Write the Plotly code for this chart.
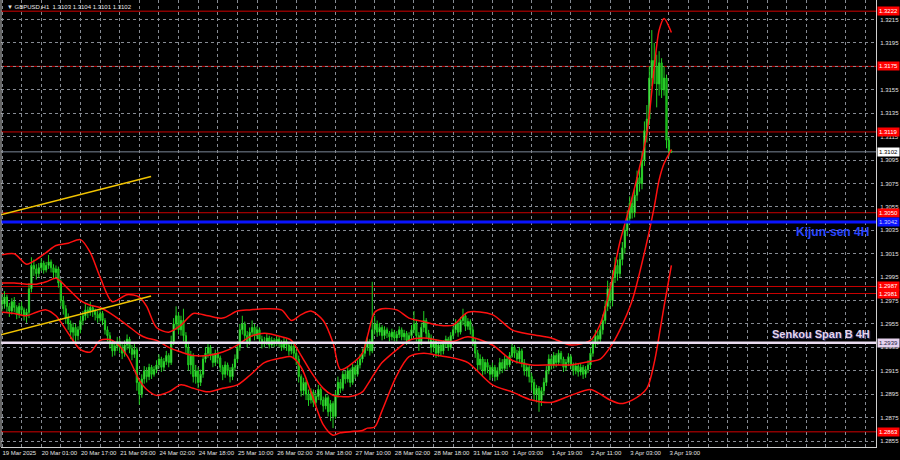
import plotly.graph_objects as go

# ---------------- data ----------------
time_labels = ["19 Mar 2025", "20 Mar 01:00", "20 Mar 17:00", "21 Mar 09:00", "24 Mar 02:00",
               "24 Mar 18:00", "25 Mar 10:00", "26 Mar 02:00", "26 Mar 18:00", "27 Mar 10:00",
               "28 Mar 02:00", "28 Mar 18:00", "31 Mar 11:00", "1 Apr 03:00", "1 Apr 19:00",
               "2 Apr 11:00", "3 Apr 03:00", "3 Apr 19:00"]

first_open = 1.2975
closes = [
    1.2972, 1.2978, 1.2970, 1.2966, 1.2974, 1.2969, 1.2963, 1.2970, 1.2967, 1.2962, 1.2965, 1.2985, 1.3005, 1.3002, 1.2998,
    1.3003, 1.3007, 1.3001, 1.3005, 1.3008, 1.3003, 1.2999, 1.3002, 1.2990, 1.2975, 1.2968, 1.2960, 1.2955, 1.2948, 1.2952, 1.2945, 1.2950, 1.2958, 1.2962, 1.2967, 1.2965, 1.2969, 1.2966, 1.2963,
    1.2960, 1.2964, 1.2958, 1.2950, 1.2945, 1.2938, 1.2932, 1.2936, 1.2940, 1.2935, 1.2930, 1.2937, 1.2942, 1.2934, 1.2929, 1.2933, 1.2905, 1.2895, 1.2908, 1.2915, 1.2910, 1.2918, 1.2912, 1.2916,
    1.2920, 1.2925, 1.2918, 1.2923, 1.2928, 1.2922, 1.2940, 1.2955, 1.2962, 1.2950, 1.2958, 1.2945, 1.2935, 1.2920, 1.2928, 1.2910, 1.2915, 1.2905, 1.2912, 1.2925, 1.2930, 1.2935, 1.2928,
    1.2922, 1.2930, 1.2926, 1.2918, 1.2912, 1.2920, 1.2915, 1.2910, 1.2918, 1.2925, 1.2935, 1.2950, 1.2955, 1.2945, 1.2940, 1.2948, 1.2952, 1.2945, 1.2950, 1.2942, 1.2938, 1.2940, 1.2943, 1.2937,
    1.2941, 1.2938, 1.2942, 1.2939, 1.2935, 1.2940, 1.2937, 1.2932, 1.2936, 1.2930, 1.2925, 1.2910, 1.2898, 1.2905, 1.2895, 1.2890, 1.2897, 1.2888, 1.2893, 1.2899, 1.2890, 1.2885, 1.2892, 1.2880,
    1.2887, 1.2876, 1.2895, 1.2905, 1.2900, 1.2912, 1.2908, 1.2915, 1.2905, 1.2918, 1.2912, 1.2920, 1.2925, 1.2930, 1.2935, 1.2940, 1.2932, 1.2950, 1.2955, 1.2948, 1.2952, 1.2945, 1.2950, 1.2947,
    1.2944, 1.2948, 1.2943, 1.2946, 1.2950, 1.2944, 1.2947, 1.2941, 1.2945, 1.2950, 1.2955, 1.2945, 1.2940, 1.2952, 1.2958, 1.2947, 1.2943, 1.2935, 1.2940, 1.2930, 1.2937, 1.2932, 1.2938, 1.2942,
    1.2935, 1.2945, 1.2950, 1.2955, 1.2948, 1.2958, 1.2962, 1.2953, 1.2957, 1.2950, 1.2940, 1.2930, 1.2920, 1.2925, 1.2915, 1.2922, 1.2918, 1.2912, 1.2918, 1.2910, 1.2915, 1.2922, 1.2917,
    1.2925, 1.2920, 1.2928, 1.2935, 1.2930, 1.2925, 1.2932, 1.2922, 1.2915, 1.2918, 1.2910, 1.2905, 1.2895, 1.2900, 1.2890, 1.2898, 1.2905, 1.2915, 1.2925, 1.2920, 1.2928, 1.2922, 1.2930, 1.2925,
    1.2918, 1.2922, 1.2927, 1.2920, 1.2915, 1.2919, 1.2914, 1.2918, 1.2912, 1.2916, 1.2920, 1.2930, 1.2938, 1.2945, 1.2942, 1.2950, 1.2958, 1.2970, 1.2985, 1.2975, 1.2995, 1.3005, 1.2998, 1.3010,
    1.3020, 1.3035, 1.3045, 1.3058, 1.3050, 1.3065, 1.3080, 1.3075, 1.3095, 1.3120, 1.3130, 1.3165, 1.3180, 1.3175, 1.3160, 1.3178, 1.3155, 1.3165, 1.3112, 1.3103, 1.3102,
]
highs = [
    1.2980, 1.2983, 1.2980, 1.2973, 1.2977, 1.2978, 1.2971, 1.2973, 1.2974, 1.2969, 1.2968, 1.2990, 1.3012, 1.3010, 1.3006,
    1.3007, 1.3011, 1.3009, 1.3008, 1.3014, 1.3010, 1.3006, 1.3005, 1.3004, 1.2993, 1.2979, 1.2971, 1.2964, 1.2958, 1.2956, 1.2955, 1.2953, 1.2962, 1.2966, 1.2972, 1.2970, 1.2974, 1.2971, 1.2968,
    1.2966, 1.2968, 1.2966, 1.2960, 1.2953, 1.2948, 1.2941, 1.2940, 1.2944, 1.2943, 1.2938, 1.2941, 1.2946, 1.2944, 1.2937, 1.2938, 1.2935, 1.2908, 1.2912, 1.2919, 1.2918, 1.2921, 1.2920, 1.2919,
    1.2924, 1.2929, 1.2927, 1.2926, 1.2932, 1.2930, 1.2945, 1.2960, 1.2970, 1.2965, 1.2962, 1.2968, 1.2948, 1.2938, 1.2932, 1.2930, 1.2920, 1.2918, 1.2916, 1.2928, 1.2935, 1.2939, 1.2937,
    1.2930, 1.2933, 1.2932, 1.2928, 1.2920, 1.2923, 1.2922, 1.2918, 1.2921, 1.2929, 1.2940, 1.2955, 1.2962, 1.2957, 1.2949, 1.2952, 1.2958, 1.2955, 1.2953, 1.2952, 1.2945, 1.2944, 1.2947, 1.2945,
    1.2944, 1.2943, 1.2945, 1.2944, 1.2941, 1.2943, 1.2942, 1.2939, 1.2939, 1.2938, 1.2933, 1.2928, 1.2912, 1.2909, 1.2907, 1.2899, 1.2900, 1.2899, 1.2896, 1.2903, 1.2901, 1.2893, 1.2895, 1.2894,
    1.2890, 1.2889, 1.2898, 1.2910, 1.2908, 1.2915, 1.2915, 1.2918, 1.2917, 1.2921, 1.2920, 1.2924, 1.2929, 1.2934, 1.2939, 1.2944, 1.2942, 1.2991, 1.2962, 1.2958, 1.2956, 1.2954, 1.2953, 1.2952,
    1.2949, 1.2951, 1.2950, 1.2949, 1.2953, 1.2952, 1.2950, 1.2949, 1.2948, 1.2954, 1.2966, 1.2958, 1.2948, 1.2956, 1.2966, 1.2960, 1.2950, 1.2946, 1.2943, 1.2942, 1.2940, 1.2939, 1.2941, 1.2945,
    1.2944, 1.2948, 1.2953, 1.2959, 1.2957, 1.2961, 1.2968, 1.2964, 1.2960, 1.2959, 1.2953, 1.2943, 1.2933, 1.2929, 1.2927, 1.2925, 1.2925, 1.2920, 1.2922, 1.2920, 1.2918, 1.2926, 1.2925,
    1.2928, 1.2927, 1.2931, 1.2939, 1.2937, 1.2933, 1.2935, 1.2934, 1.2925, 1.2921, 1.2920, 1.2913, 1.2908, 1.2903, 1.2902, 1.2901, 1.2909, 1.2919, 1.2929, 1.2928, 1.2931, 1.2930, 1.2933, 1.2932,
    1.2927, 1.2925, 1.2930, 1.2929, 1.2922, 1.2922, 1.2921, 1.2921, 1.2920, 1.2919, 1.2924, 1.2934, 1.2942, 1.2950, 1.2949, 1.2954, 1.2963, 1.2975, 1.2992, 1.2990, 1.3001, 1.3012, 1.3010, 1.3015,
    1.3025, 1.3040, 1.3052, 1.3064, 1.3063, 1.3070, 1.3086, 1.3090, 1.3102, 1.3128, 1.3142, 1.3175, 1.3206, 1.3195, 1.3185, 1.3188, 1.3182, 1.3175, 1.3168, 1.3115, 1.3104,
]
lows = [
    1.2966, 1.2968, 1.2965, 1.2961, 1.2963, 1.2965, 1.2959, 1.2960, 1.2962, 1.2958, 1.2956, 1.2960, 1.2982, 1.2996, 1.2993,
    1.2995, 1.3000, 1.2998, 1.2999, 1.3002, 1.2999, 1.2994, 1.2995, 1.2986, 1.2970, 1.2963, 1.2955, 1.2950, 1.2942, 1.2940, 1.2938, 1.2941, 1.2947, 1.2954, 1.2958, 1.2960, 1.2962, 1.2961, 1.2958,
    1.2956, 1.2957, 1.2954, 1.2946, 1.2940, 1.2934, 1.2927, 1.2928, 1.2932, 1.2930, 1.2925, 1.2927, 1.2933, 1.2930, 1.2924, 1.2926, 1.2898, 1.2886, 1.2892, 1.2904, 1.2905, 1.2907, 1.2908, 1.2910,
    1.2913, 1.2917, 1.2914, 1.2915, 1.2920, 1.2918, 1.2920, 1.2937, 1.2950, 1.2946, 1.2945, 1.2940, 1.2930, 1.2915, 1.2912, 1.2905, 1.2904, 1.2900, 1.2902, 1.2909, 1.2922, 1.2926, 1.2924,
    1.2918, 1.2919, 1.2921, 1.2914, 1.2907, 1.2909, 1.2911, 1.2905, 1.2907, 1.2915, 1.2922, 1.2932, 1.2946, 1.2941, 1.2935, 1.2937, 1.2944, 1.2941, 1.2942, 1.2938, 1.2934, 1.2935, 1.2937, 1.2934,
    1.2935, 1.2935, 1.2936, 1.2935, 1.2932, 1.2933, 1.2932, 1.2928, 1.2929, 1.2925, 1.2920, 1.2905, 1.2893, 1.2894, 1.2890, 1.2885, 1.2887, 1.2884, 1.2885, 1.2890, 1.2886, 1.2880, 1.2882, 1.2876,
    1.2872, 1.2866, 1.2874, 1.2892, 1.2896, 1.2898, 1.2904, 1.2905, 1.2901, 1.2903, 1.2908, 1.2910, 1.2917, 1.2922, 1.2927, 1.2932, 1.2928, 1.2930, 1.2946, 1.2944, 1.2945, 1.2941, 1.2942, 1.2943,
    1.2940, 1.2941, 1.2940, 1.2940, 1.2943, 1.2941, 1.2941, 1.2937, 1.2938, 1.2942, 1.2947, 1.2940, 1.2932, 1.2937, 1.2948, 1.2943, 1.2938, 1.2930, 1.2931, 1.2926, 1.2927, 1.2928, 1.2929, 1.2935,
    1.2932, 1.2933, 1.2942, 1.2947, 1.2944, 1.2946, 1.2954, 1.2949, 1.2950, 1.2946, 1.2936, 1.2926, 1.2915, 1.2916, 1.2910, 1.2912, 1.2913, 1.2907, 1.2909, 1.2906, 1.2907, 1.2912, 1.2913,
    1.2915, 1.2916, 1.2918, 1.2926, 1.2926, 1.2921, 1.2922, 1.2918, 1.2911, 1.2910, 1.2905, 1.2898, 1.2890, 1.2888, 1.2880, 1.2885, 1.2894, 1.2902, 1.2912, 1.2916, 1.2917, 1.2918, 1.2920, 1.2921,
    1.2914, 1.2915, 1.2919, 1.2916, 1.2911, 1.2912, 1.2910, 1.2911, 1.2908, 1.2909, 1.2913, 1.2917, 1.2927, 1.2935, 1.2937, 1.2938, 1.2946, 1.2955, 1.2966, 1.2968, 1.2970, 1.2990, 1.2992, 1.2995,
    1.3005, 1.3015, 1.3030, 1.3040, 1.3045, 1.3046, 1.3060, 1.3068, 1.3070, 1.3090, 1.3110, 1.3125, 1.3158, 1.3160, 1.3140, 1.3150, 1.3148, 1.3150, 1.3105, 1.3098, 1.3101,
]
opens = [first_open] + closes[:-1]

# Bollinger band readings (bar index -> price)
band_idx = [0, 5, 10, 14, 18, 22, 27, 32, 36, 40, 45, 51, 56, 59, 63, 68, 73, 78, 84, 90,
            96, 101, 107, 114, 118, 122, 126, 131, 135, 138, 142, 147, 149, 152, 155, 161, 166, 172, 178, 184,
            190, 200, 208, 216, 224, 232, 240, 244, 248, 252, 257, 263, 266, 268, 270, 273]
bb_upper = [1.3014, 1.3015, 1.3006, 1.3010, 1.3016, 1.3022, 1.3024, 1.3027, 1.3016, 1.2995, 1.2974, 1.2980, 1.2978, 1.2970, 1.2952, 1.2948, 1.2954, 1.2964, 1.2962, 1.2960,
            1.2966, 1.2967, 1.2968, 1.2967, 1.2958, 1.2963, 1.2966, 1.2958, 1.2939, 1.2916, 1.2920, 1.2930, 1.2944, 1.2965, 1.2968, 1.2967, 1.2960, 1.2957, 1.2954, 1.2954,
            1.2965, 1.2963, 1.2950, 1.2946, 1.2943, 1.2937, 1.2941, 1.2955, 1.2985, 1.3025, 1.3063, 1.3118, 1.3174, 1.3206, 1.3216, 1.3204]
bb_middle = [1.2990, 1.2990, 1.2989, 1.2989, 1.2991, 1.2994, 1.2985, 1.2975, 1.2971, 1.2969, 1.2963, 1.2954, 1.2946, 1.2943, 1.2941, 1.2935, 1.2931, 1.2928, 1.2928, 1.2931,
             1.2937, 1.2944, 1.2947, 1.2944, 1.2941, 1.2928, 1.2914, 1.2900, 1.2894, 1.2893, 1.2893, 1.2897, 1.2903, 1.2913, 1.2922, 1.2933, 1.2941, 1.2943, 1.2941, 1.2940,
             1.2944, 1.2937, 1.2924, 1.2920, 1.2920, 1.2920, 1.2923, 1.2925, 1.2935, 1.2950, 1.2975, 1.3025, 1.3055, 1.3078, 1.3092, 1.3104]
bb_lower = [1.2965, 1.2964, 1.2962, 1.2965, 1.2967, 1.2962, 1.2947, 1.2933, 1.2931, 1.2941, 1.2941, 1.2928, 1.2907, 1.2899, 1.2894, 1.2897, 1.2903, 1.2900, 1.2897, 1.2900,
            1.2903, 1.2911, 1.2922, 1.2926, 1.2927, 1.2918, 1.2897, 1.2869, 1.2860, 1.2862, 1.2863, 1.2864, 1.2866, 1.2867, 1.2881, 1.2911, 1.2927, 1.2930, 1.2928, 1.2926,
            1.2922, 1.2903, 1.2897, 1.2890, 1.2888, 1.2894, 1.2899, 1.2895, 1.2890, 1.2887, 1.2890, 1.2900, 1.2922, 1.2945, 1.2970, 1.3005]

# horizontal levels
main_levels = [1.3175, 1.3119, 1.3050, 1.2987, 1.2981]
outer_levels = [1.3222, 1.2863]
kijun_level = 1.3042
senkou_level = 1.2939
last_price = 1.3102

# trend channel (bar index, price)
trend_x = [-0.82, 60.8]
trend_upper = [1.3048, 1.3081]
trend_lower = [1.29455, 1.29788]

price_ticks = [1.2855, 1.2875, 1.2895, 1.2915, 1.2935, 1.2955, 1.2975, 1.2995, 1.3015, 1.3035,
               1.3055, 1.3075, 1.3095, 1.3115, 1.3135, 1.3155, 1.3175, 1.3195, 1.3215]

title_text = "\u25BC GBPUSD,H1  1.3103 1.3104 1.3101 1.3102"

# ---------------- figure ----------------
N = len(closes)
xs = list(range(N))
FONT = "Liberation Sans, Arial, sans-serif"
GRID = "#868b93"
RED = "#c80000"
DARKRED = "#8c0000"

fig = go.Figure()

fig.add_trace(go.Candlestick(
    x=xs, open=opens, high=highs, low=lows, close=closes,
    increasing=dict(line=dict(color="#22d022", width=1), fillcolor="#a8f5a8"),
    decreasing=dict(line=dict(color="#22d022", width=1), fillcolor="#0b8a0b"),
    whiskerwidth=0, hoverinfo="skip", showlegend=False,
))

for ys in (bb_upper, bb_middle, bb_lower):
    fig.add_trace(go.Scatter(x=band_idx, y=ys, mode="lines",
                             line=dict(color="#ff1010", width=1.5, shape="spline", smoothing=0.8),
                             hoverinfo="skip", showlegend=False))

for ys in (trend_upper, trend_lower):
    fig.add_trace(go.Scatter(x=trend_x, y=ys, mode="lines",
                             line=dict(color="#f2c400", width=1.5),
                             hoverinfo="skip", showlegend=False))

shapes = []
for lv in main_levels:
    shapes.append(dict(type="line", xref="paper", x0=0, x1=1, yref="y", y0=lv, y1=lv,
                       line=dict(color=RED, width=1), layer="below"))
for lv in outer_levels:
    shapes.append(dict(type="line", xref="paper", x0=0, x1=1, yref="y", y0=lv, y1=lv,
                       line=dict(color=DARKRED, width=1.5), layer="below"))
shapes.append(dict(type="line", xref="paper", x0=0, x1=1, yref="y", y0=last_price, y1=last_price,
                   line=dict(color="#7a8796", width=1), layer="below"))
shapes.append(dict(type="line", xref="paper", x0=0, x1=1, yref="y", y0=kijun_level, y1=kijun_level,
                   line=dict(color="#0a14ff", width=3), layer="above"))
shapes.append(dict(type="line", xref="paper", x0=0, x1=1, yref="y", y0=senkou_level, y1=senkou_level,
                   line=dict(color="#eadcf0", width=2.5), layer="above"))
shapes.append(dict(type="line", xref="paper", x0=0, x1=0, yref="paper", y0=0, y1=1,
                   line=dict(color="#c8c8c8", width=1)))

annotations = []
def price_tag(val, bg, fg):
    annotations.append(dict(xref="paper", x=1, xanchor="left", xshift=1, yref="y", y=val,
                            yanchor="middle", text=f"{val:.4f}", showarrow=False,
                            font=dict(family=FONT, size=6, color=fg),
                            bgcolor=bg, borderpad=1))

for lv in main_levels + outer_levels:
    price_tag(lv, "#ff0000", "#ffffff")
price_tag(kijun_level, "#0a14ff", "#d0d0ff")
price_tag(senkou_level, "#e6d2ee", "#202040")
price_tag(last_price, "#ffffff", "#000000")

annotations.append(dict(xref="paper", x=0, xanchor="left", xshift=4, yref="paper", y=1,
                        yanchor="top", yshift=-2, text=title_text, showarrow=False,
                        font=dict(family=FONT, size=6, color="#e8e8e8")))
annotations.append(dict(xref="paper", x=0.9943, xanchor="right", yref="y", y=1.30335,
                        yanchor="middle", text="Kijun-sen 4H", showarrow=False,
                        font=dict(family=FONT, size=12, color="#2a46ff", weight="bold")))
annotations.append(dict(xref="paper", x=0.9954, xanchor="right", yref="y", y=1.29464,
                        yanchor="middle", text="Senkou Span B 4H", showarrow=False,
                        font=dict(family=FONT, size=11, color="#e4d4ee", weight="bold",
                                  shadow="1px 1px 1px #3a3a70")))

tick_pos = list(range(0, 353, 16))
tick_txt = time_labels + [""] * (len(tick_pos) - len(time_labels))

fig.update_layout(
    width=900, height=460,
    margin=dict(l=1, r=24, t=0, b=13, pad=0, autoexpand=False),
    paper_bgcolor="#000000", plot_bgcolor="#000000",
    showlegend=False,
    shapes=shapes, annotations=annotations,
    xaxis=dict(
        range=[-0.41, 356.44], tickmode="array", tickvals=tick_pos, ticktext=tick_txt,
        showgrid=True, gridcolor=GRID, griddash="3px,3px", gridwidth=1,
        minor=dict(tickmode="array", tickvals=list(range(8, 353, 16)), showgrid=True,
                   gridcolor=GRID, griddash="3px,3px", gridwidth=1),
        showline=True, linecolor="#d0d0d0", linewidth=1, ticks="", tickangle=0,
        tickfont=dict(family=FONT, size=6, color="#e0e0e0"),
        ticklabelposition="outside right", zeroline=False, automargin=False,
        rangeslider=dict(visible=False), fixedrange=True,
    ),
    yaxis=dict(
        side="right", range=[1.28499, 1.32317], tickmode="array", tickvals=price_ticks,
        ticktext=[f"{v:.4f}" for v in price_ticks],
        showgrid=True, gridcolor=GRID, griddash="3px,3px", gridwidth=1,
        showline=True, linecolor="#d0d0d0", linewidth=1, ticks="",
        tickfont=dict(family=FONT, size=6, color="#e0e0e0"), ticklabelstandoff=2,
        zeroline=False, fixedrange=True, automargin=False,
    ),
)

fig.write_html("out.html", config={"displayModeBar": False},
               post_script="document.body.style.margin='0';document.body.style.padding='0';")
